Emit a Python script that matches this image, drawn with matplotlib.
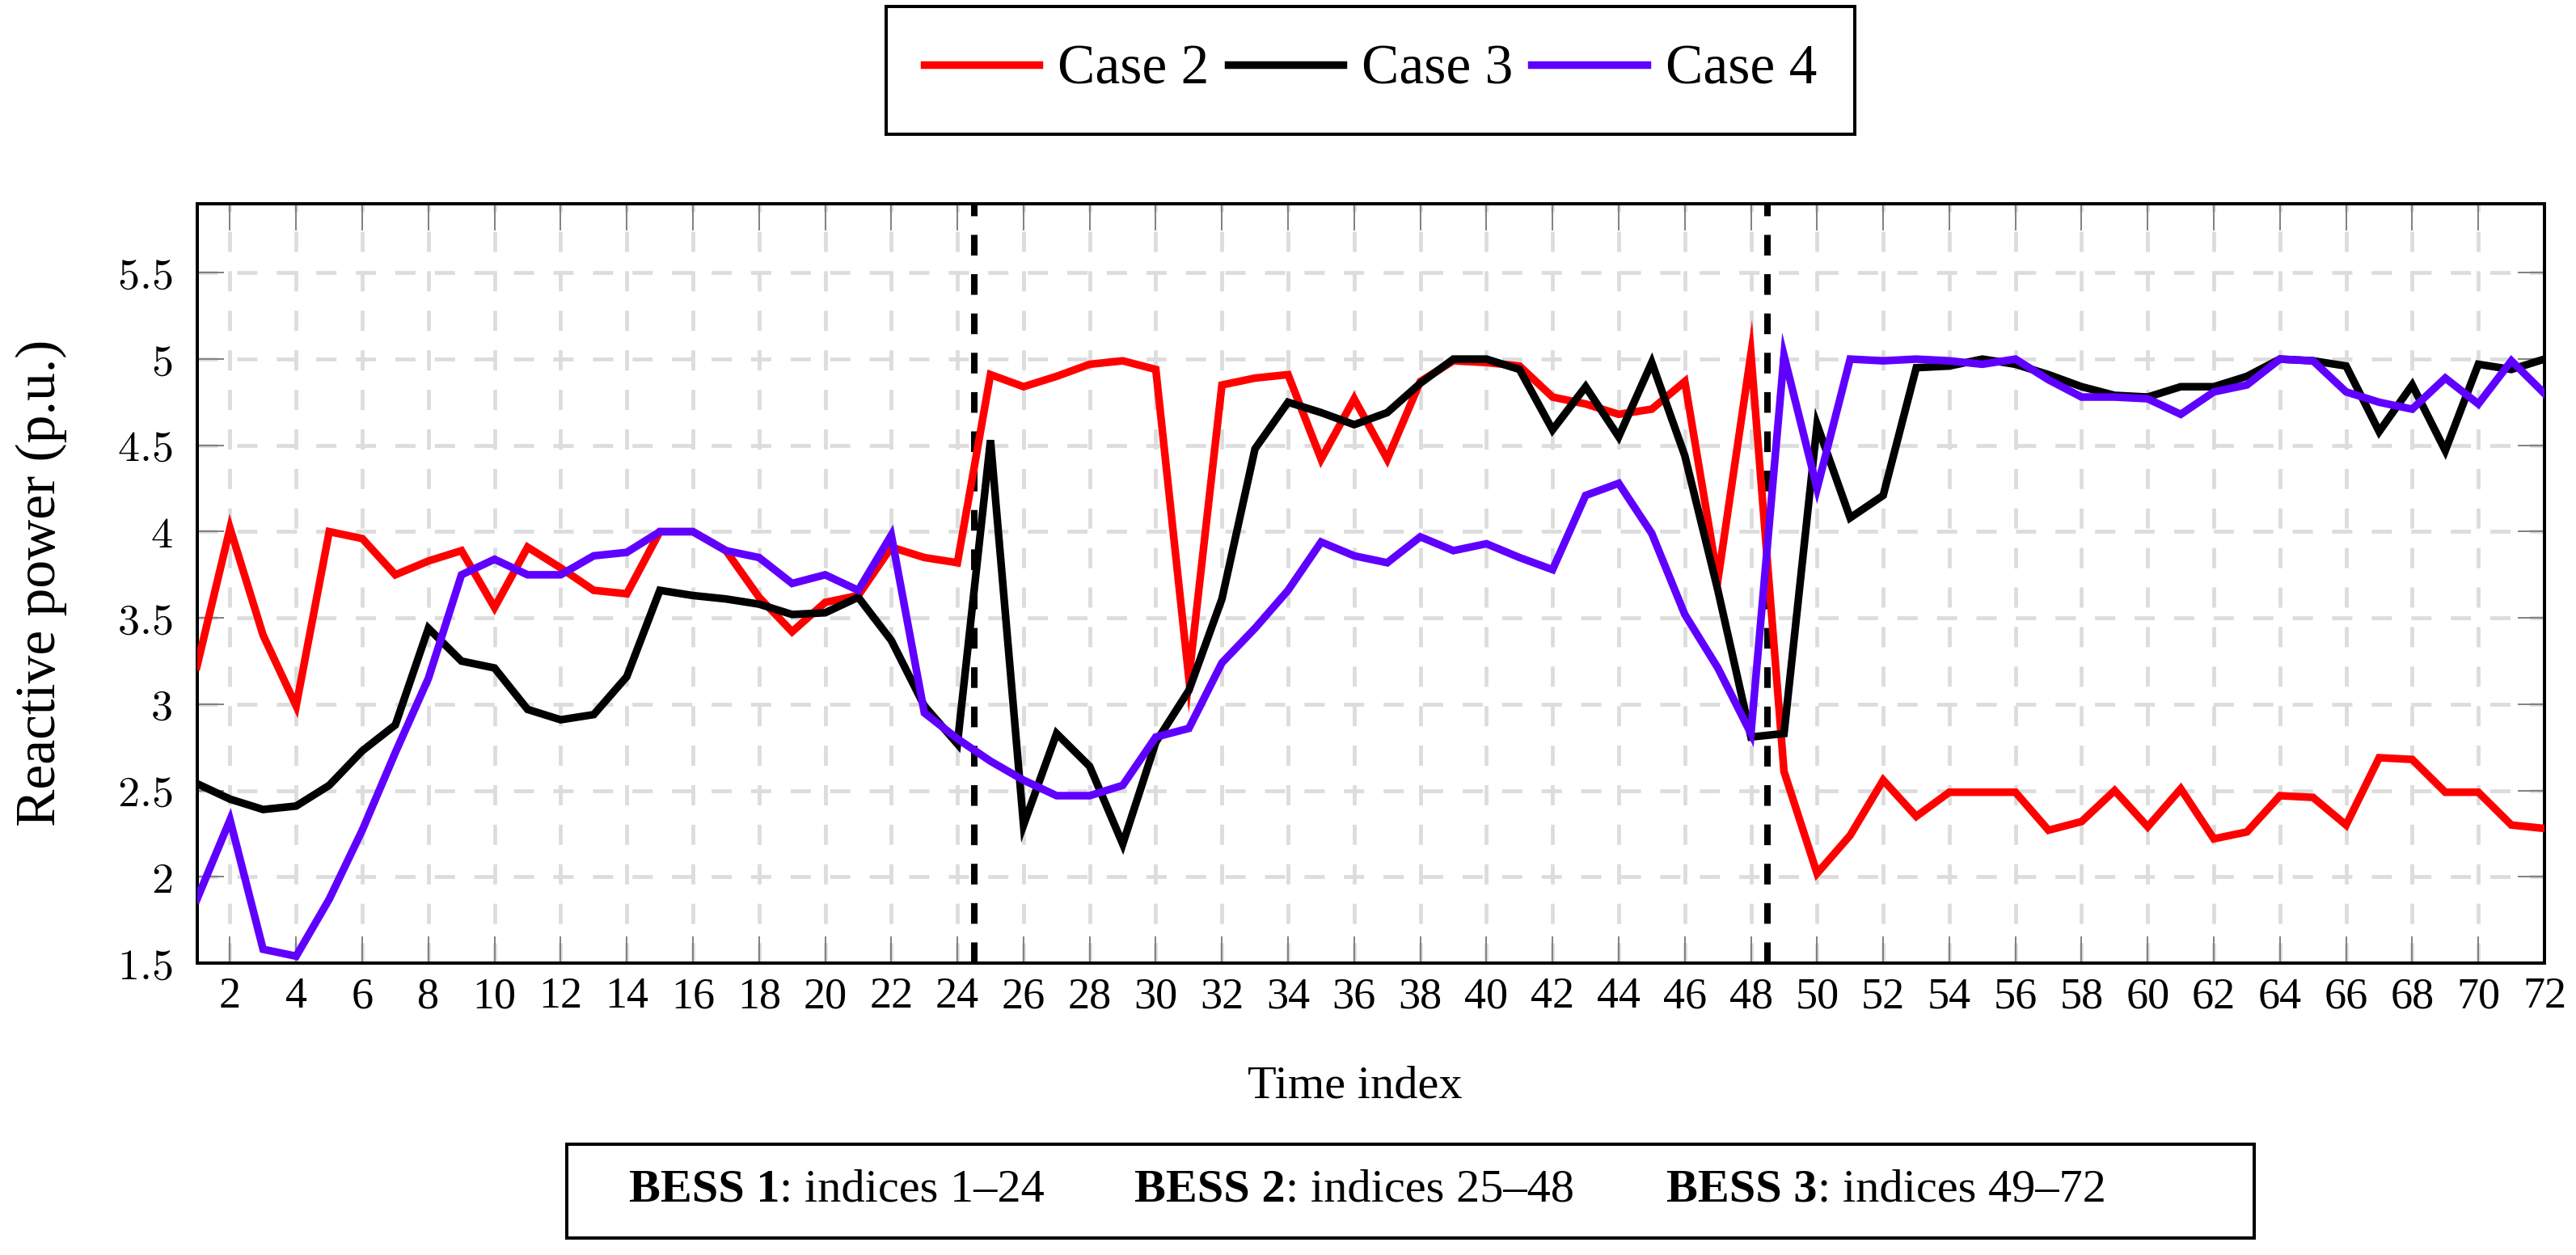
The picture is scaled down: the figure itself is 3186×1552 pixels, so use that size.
import matplotlib.pyplot as plt
from matplotlib.lines import Line2D
from matplotlib.patches import Rectangle
from matplotlib.ticker import FuncFormatter

plt.rcParams['font.family'] = ['Liberation Serif', 'DejaVu Serif']
plt.rcParams['mathtext.fontset'] = 'cm'
plt.rcParams['lines.scale_dashes'] = False

# Reactive power per time index (1..72)
time_index = list(range(1, 73))
case2 = [3.22, 4.02, 3.40, 2.99, 4.00, 3.96, 3.75, 3.83, 3.89, 3.56, 3.91, 3.79,
         3.66, 3.64, 4.00, 4.00, 3.89, 3.62, 3.42, 3.59, 3.63, 3.91, 3.85, 3.82,
         4.91, 4.84, 4.90, 4.97, 4.99, 4.94, 3.15, 4.85, 4.89, 4.91, 4.42, 4.77,
         4.42, 4.87, 4.99, 4.98, 4.96, 4.78, 4.74, 4.68, 4.71, 4.87, 3.72, 5.03,
         2.61, 2.02, 2.24, 2.56, 2.35, 2.49, 2.49, 2.49, 2.27, 2.32, 2.50, 2.29,
         2.51, 2.22, 2.26, 2.47, 2.46, 2.30, 2.69, 2.68, 2.49, 2.49, 2.30, 2.28]
case3 = [2.54, 2.45, 2.39, 2.41, 2.53, 2.73, 2.88, 3.44, 3.25, 3.21, 2.97, 2.91,
         2.94, 3.16, 3.66, 3.63, 3.61, 3.58, 3.52, 3.53, 3.62, 3.37, 2.99, 2.77,
         4.53, 2.30, 2.83, 2.64, 2.19, 2.78, 3.08, 3.61, 4.48, 4.75, 4.69, 4.62,
         4.69, 4.86, 5.00, 5.00, 4.94, 4.59, 4.84, 4.55, 4.98, 4.44, 3.66, 2.81,
         2.83, 4.62, 4.08, 4.21, 4.95, 4.96, 5.00, 4.97, 4.91, 4.84, 4.79, 4.78,
         4.84, 4.84, 4.90, 5.00, 4.99, 4.96, 4.58, 4.85, 4.47, 4.97, 4.94, 5.00]
case4 = [1.87, 2.33, 1.58, 1.54, 1.87, 2.27, 2.72, 3.15, 3.75, 3.84, 3.75, 3.75,
         3.86, 3.88, 4.00, 4.00, 3.89, 3.85, 3.70, 3.75, 3.66, 3.98, 2.95, 2.80,
         2.67, 2.56, 2.47, 2.47, 2.53, 2.81, 2.86, 3.24, 3.44, 3.66, 3.94, 3.86,
         3.82, 3.97, 3.89, 3.93, 3.85, 3.78, 4.21, 4.28, 3.99, 3.52, 3.21, 2.83,
         5.02, 4.25, 5.00, 4.99, 5.00, 4.99, 4.97, 5.00, 4.88, 4.78, 4.78, 4.77,
         4.68, 4.81, 4.85, 5.00, 4.99, 4.81, 4.75, 4.71, 4.89, 4.74, 4.99, 4.80]

series_names = ['Case 2', 'Case 3', 'Case 4']
series_colors = ['#ff0000', '#000000', '#5f00ff']
bess_split = [24.5, 48.5]
x_ticks = list(range(2, 73, 2))
y_ticks = [1.5, 2, 2.5, 3, 3.5, 4, 4.5, 5, 5.5]
bess_bold = ['BESS 1', 'BESS 2', 'BESS 3']
bess_rest = [': indices 1\u201324', ': indices 25\u201348', ': indices 49\u201372']

W, H = 3186, 1552
fig = plt.figure(figsize=(W / 200, H / 200), dpi=200)
ax = fig.add_axes([243.6 / W, 1 - 1191 / H, (3147 - 243.6) / W, (1191 - 252) / H])

for x in bess_split:
    ax.axvline(x, color='black', lw=2.9, linestyle=(0, (9.2, 8.3)), zorder=2)

for vals, name, col in zip([case2, case3, case4], series_names, series_colors):
    ax.plot(time_index, vals, color=col, lw=3.4, label=name, zorder=3,
            solid_joinstyle='miter')

ax.set_xlim(1, 72)
ax.set_ylim(1.5, 5.9)
ax.set_xticks(x_ticks)
ax.set_yticks(y_ticks)
ax.yaxis.set_major_formatter(FuncFormatter(lambda v, p: f'${v:g}$'))
ax.tick_params(direction='in', length=12, width=0.7, color='#808080',
               top=True, right=True, labelsize=19.5)
ax.tick_params(axis='x', pad=6)
ax.tick_params(axis='y', pad=11)
ax.set_axisbelow(True)
ax.grid(True, color='#dcdcdc', lw=1.7, linestyle=(0, (9, 8.6)))
for s in ax.spines.values():
    s.set_linewidth(1.44)

fig.text(51 / W, 1 - 721 / H, 'Reactive power (p.u.)', rotation=90,
         ha='center', va='center', fontsize=25)
fig.text(1676 / W, 1 - 1358 / H, 'Time index', ha='center', va='baseline',
         fontsize=21)

handles = [Line2D([], [], color=c, lw=3.4) for c in series_colors]
leg = fig.legend(handles, series_names, loc='center',
                 bbox_to_anchor=(1695 / W, 1 - 87 / H), ncol=3, fontsize=25,
                 frameon=True, fancybox=False, edgecolor='black', framealpha=1,
                 borderpad=0.68, handlelength=2.05, handletextpad=0.33,
                 columnspacing=0.33)
leg.get_frame().set_linewidth(1.44)

# box with BESS index ranges below the axis
fig.add_artist(Rectangle((701 / W, 1 - 1531 / H), (2788 - 701) / W, (1531 - 1415) / H,
                         transform=fig.transFigure, fill=False, lw=1.44,
                         edgecolor='black'))
fig.canvas.draw()
renderer = fig.canvas.get_renderer()
for x0, b, r in zip([778, 1403, 2061], bess_bold, bess_rest):
    t = fig.text(x0 / W, 1 - 1486 / H, b, fontweight='bold', fontsize=21,
                 va='baseline', ha='left')
    bb = t.get_window_extent(renderer)
    fig.text(bb.x1 / W, 1 - 1486 / H, r, fontsize=21, va='baseline', ha='left')

fig.savefig('out.png', dpi=200)
